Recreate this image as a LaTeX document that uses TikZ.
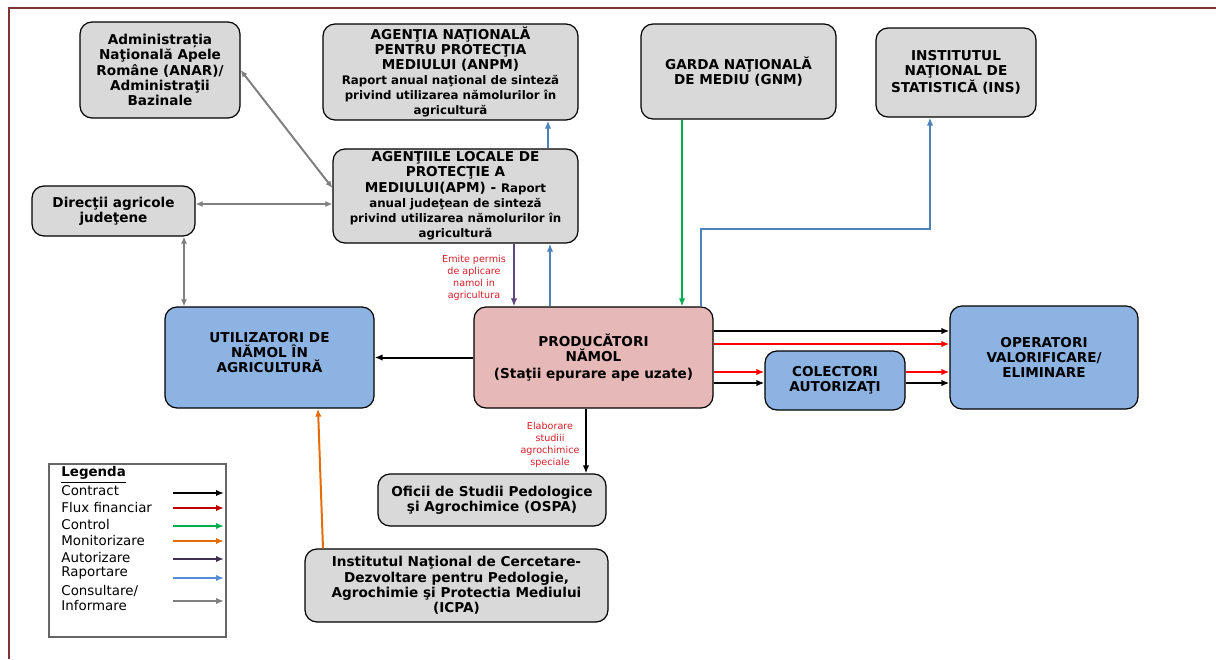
\documentclass[tikz,border=0pt]{standalone}
\usepackage{fontspec}
\setmainfont{DejaVu Sans}
\usetikzlibrary{arrows.meta}
\definecolor{framecol}{RGB}{128,52,52}
\definecolor{boxgray}{RGB}{217,217,217}
\definecolor{boxblue}{RGB}{141,179,226}
\definecolor{boxpink}{RGB}{230,184,183}
\definecolor{cred}{RGB}{255,0,0}
\definecolor{cdred}{RGB}{192,0,0}
\definecolor{cgreen}{RGB}{0,176,80}
\definecolor{corange}{RGB}{228,108,10}
\definecolor{cpurple}{RGB}{96,73,122}
\definecolor{cdpurple}{RGB}{64,49,82}
\definecolor{cblue}{RGB}{79,129,189}
\definecolor{clblue}{RGB}{85,142,213}
\definecolor{cgray}{RGB}{128,128,128}
\definecolor{lblred}{RGB}{215,30,40}
\newcommand{\smalltxt}{\fontsize{5.9}{7.6}\selectfont}
\begin{document}
\begin{tikzpicture}[x=0.5pt,y=-0.5pt,
  box/.style={draw=black, line width=0.6pt, rounded corners=6pt, align=center,
    font=\bfseries\fontsize{6.8}{7.6}\selectfont, inner sep=0pt},
  gbox/.style={box, fill=boxgray},
  bbox/.style={box, fill=boxblue},
  pbox/.style={box, fill=boxpink},
  tip/.style={-{Latex[length=4pt,width=3.2pt]}},
  dtip/.style={{Latex[length=3.5pt,width=3pt]}-{Latex[length=3.5pt,width=3pt]}},
  arr/.style={tip, line width=1pt},
  lbl/.style={text=lblred, align=center, font=\fontsize{4.8}{6.1}\selectfont, inner sep=0pt},
  legtxt/.style={anchor=west, inner sep=0pt, font=\fontsize{6.7}{7.7}\selectfont}
]
\useasboundingbox (0,0) rectangle (1216,659);
\draw[framecol, line width=1.1pt] (9,659) -- (9,8) -- (1216,8);

% helper coordinates
\foreach \n/\v in {184/184,514/514,548/548,550/550,586/586,682/682,701/701,930/930,318/318,323/323}
  \coordinate (x\n) at (\v,0);
\foreach \n/\v in {188/188,204/204,229/229,331/331,344/344,372/372,383/383}
  \coordinate (y\n) at (0,\v);

% nodes
\node[gbox, minimum width=80pt, minimum height=48pt] (anar) at (160,70)
  {Administrația\\Naţională Apele\\Române (ANAR)/\\Administraţii\\Bazinale};
\node[gbox, minimum width=127.5pt, minimum height=48pt] (anpm) at (450.5,72)
  {AGENŢIA NAŢIONALĂ\\PENTRU PROTECŢIA\\MEDIULUI (ANPM)\\[-0.3pt]
   {\smalltxt Raport anual naţional de sinteză}\\
   {\smalltxt privind utilizarea nămolurilor în}\\
   {\smalltxt agricultură}};
\node[gbox, minimum width=97.5pt, minimum height=47.5pt] (gnm) at (738.5,71.5)
  {GARDA NAŢIONALĂ\\DE MEDIU (GNM)};
\node[gbox, minimum width=80pt, minimum height=44.5pt] (ins) at (956,72.5)
  {INSTITUTUL\\NAŢIONAL DE\\STATISTICĂ (INS)};
\node[gbox, minimum width=81.5pt, minimum height=25pt] (dir) at (113.5,211)
  {Direcţii agricole\\judeţene};
\node[gbox, minimum width=122.5pt, minimum height=47pt] (apm) at (455.5,196)
  {AGENŢIILE LOCALE DE\\PROTECŢIE A\\MEDIULUI(APM) - {\smalltxt Raport}\\
   {\smalltxt anual judeţean de sinteză}\\
   {\smalltxt privind utilizarea nămolurilor în}\\
   {\smalltxt agricultură}};
\node[bbox, minimum width=104.5pt, minimum height=50.5pt] (util) at (269.5,357.5)
  {UTILIZATORI DE\\NĂMOL ÎN\\AGRICULTURĂ\\[-2.4pt]};
\node[pbox, minimum width=119.5pt, minimum height=50.5pt] (prod) at (593.5,357.5)
  {PRODUCĂTORI\\NĂMOL\\[1pt](Staţii epurare ape uzate)};
\node[bbox, minimum width=70pt, minimum height=29.5pt] (col) at (835,380.5)
  {COLECTORI\\AUTORIZAŢI};
\node[bbox, minimum width=94pt, minimum height=51.5pt] (op) at (1044,357.5)
  {OPERATORI\\VALORIFICARE/\\ELIMINARE};
\node[gbox, minimum width=114pt, minimum height=26pt] (ospa) at (492,500)
  {Oficii de Studii Pedologice\\şi Agrochimice (OSPA)};
\node[gbox, minimum width=151.5pt, minimum height=36.5pt] (icpa) at (456.5,585.5)
  {Institutul Naţional de Cercetare-\\Dezvoltare pentru Pedologie,\\Agrochimie şi Protectia Mediului\\(ICPA)};

% connectors
\draw[cgray, line width=1pt, dtip] (anar.east) -- (apm.west |- y188);
\draw[cgray, line width=1pt, dtip] (dir.east |- y204) -- (apm.west |- y204);
\draw[cgray, line width=1pt, dtip] (dir.south -| x184) -- (util.north -| x184);
\draw[cpurple, arr] (apm.south -| x514) -- (prod.north -| x514);
\draw[cblue, arr] (prod.north -| x550) -- (apm.south -| x550);
\draw[cblue, arr] (apm.north -| x548) -- (anpm.south -| x548);
\draw[cgreen, arr] (gnm.south -| x682) -- (prod.north -| x682);
\draw[cblue, line width=0.8pt, tip] (prod.north -| x701) -- (x701 |- y229) -- (x930 |- y229) -- (ins.south -| x930);
\draw[black, arr] (prod.west) -- (util.east);
\draw[black, arr] (prod.south -| x586) -- (ospa.north -| x586);
\draw[corange, arr] (icpa.north -| x323) -- (util.south -| x318);
\draw[black, arr] (prod.east |- y331) -- (op.west |- y331);
\draw[cred, arr] (prod.east |- y344) -- (op.west |- y344);
\draw[cred, arr] (prod.east |- y372) -- (col.west |- y372);
\draw[black, arr] (prod.east |- y383) -- (col.west |- y383);
\draw[cred, arr] (col.east |- y372) -- (op.west |- y372);
\draw[black, arr] (col.east |- y383) -- (op.west |- y383);

% labels
\node[lbl] (l1) at (474,278) {Emite permis\\de aplicare\\namol in\\agricultura};
\node[lbl] (l2) at (550,445) {Elaborare\\studiii\\agrochimice\\speciale};

% legend
\node[draw=cgray!80!black, line width=0.6pt, fill=white, minimum width=88.5pt, minimum height=86.5pt, inner sep=0pt] (leg) at (137.5,550.5) {};
\node[legtxt, font=\bfseries\fontsize{6.7}{7.7}\selectfont] (lh) at (61,475) {\underline{Legenda}};
\node[legtxt] (t1) at (61,491) {Contract};
\node[legtxt] (t2) at (61,507) {Flux financiar};
\node[legtxt] (t3) at (61,524) {Control};
\node[legtxt] (t4) at (61,540) {Monitorizare};
\node[legtxt] (t5) at (61,557) {Autorizare};
\node[legtxt] (t6) at (61,573) {Raportare};
\node[legtxt, align=left] (t7) at (61,598) {Consultare/\\Informare};
\foreach \c/\y in {black/493, cdred/508, cgreen/526, corange/541, cdpurple/559, clblue/578, cgray/601} {
  \coordinate (la\y) at (173,\y);
  \coordinate (lb\y) at (224,\y);
  \draw[\c, arr] (la\y) -- (lb\y);
}
\end{tikzpicture}
\end{document}
